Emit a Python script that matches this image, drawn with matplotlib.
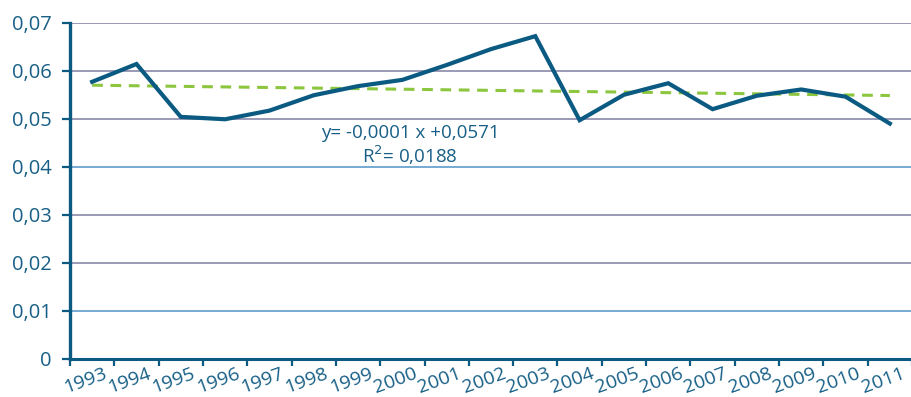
import matplotlib
matplotlib.use("Agg")
import matplotlib.pyplot as plt
import matplotlib.transforms as mtransforms
from matplotlib.ticker import FixedLocator, FuncFormatter
import numpy as np

plt.rcParams["font.family"] = ["Open Sans", "DejaVu Sans"]

years = [str(y) for y in range(1993, 2012)]
values = [0.0577, 0.0614, 0.0504, 0.0499, 0.0517, 0.0549, 0.0568, 0.0581, 0.0612,
          0.0645, 0.0672, 0.0497, 0.0550, 0.0574, 0.0520, 0.0548, 0.0561, 0.0546,
          0.0490]
y_ticks = [0, 0.01, 0.02, 0.03, 0.04, 0.05, 0.06, 0.07]
equation = "y= -0,0001 x +0,0571"
r_squared = "R$^2$= 0,0188"

DARK = "#0b5a82"
TEXT = "#175f86"
GREEN = "#8cc63f"
GRID_A = "#8988aa"
GRID_B = "#5d9ccb"

fig = plt.figure(figsize=(9.12, 3.97), dpi=100)
ax = fig.add_axes([70 / 912, 1 - 359 / 397, 1 - 70 / 912, (359 - 22.7) / 397])

x = np.arange(len(years))
# linear trend through the series (x counted from 1 as in the spreadsheet)
slope, intercept = np.polyfit(x + 1, values, 1)
ax.plot(x, intercept + slope * (x + 1), color=GREEN, lw=2.2, ls=(0, (3.5, 2.5)), zorder=3)
ax.plot(x, values, color=DARK, lw=3.0, solid_joinstyle="miter", zorder=4)

ax.set_xlim(-0.5, len(years) - 0.5)
ax.set_ylim(0, 0.07)

# gridlines, alternating colours as in the source
for t in y_ticks[1:]:
    c = GRID_B if t in (0.01, 0.04) else GRID_A
    ax.axhline(t, color=c, lw=1.2, zorder=1)

ax.yaxis.set_major_locator(FixedLocator(y_ticks))
ax.yaxis.set_major_formatter(FuncFormatter(
    lambda v, p: "0" if v == 0 else f"{v:.2f}".replace(".", ",")))
ax.xaxis.set_major_locator(FixedLocator(np.arange(-0.5, len(years), 1.0)))
ax.xaxis.set_major_formatter(FuncFormatter(lambda v, p: ""))
ax.xaxis.set_minor_locator(FixedLocator(x))
ax.set_xticklabels(years, minor=True)

ax.tick_params(axis="y", direction="out", length=6, width=1.6, color=DARK,
               labelsize=14.5, labelcolor=TEXT, pad=7)
ax.tick_params(axis="x", which="major", direction="out", length=5, width=1.6, color=DARK)
ax.tick_params(axis="x", which="minor", length=0, labelsize=14, labelcolor=TEXT, pad=4)

offset = mtransforms.ScaledTranslation(-7 / 100, 0, fig.dpi_scale_trans)
for lab in ax.get_xticklabels(minor=True):
    lab.set_rotation(20)
    lab.set_ha("center")
    lab.set_transform(lab.get_transform() + offset)

for s in ("top", "right"):
    ax.spines[s].set_visible(False)
ax.spines["left"].set_color(DARK)
ax.spines["left"].set_linewidth(2.4)
ax.spines["bottom"].set_color(DARK)
ax.spines["bottom"].set_linewidth(2.2)
ax.spines["bottom"].set_zorder(5)

ax.text(7.18, 0.0471, equation, ha="center", va="center", color=TEXT, fontsize=13.5)
ax.text(7.18, 0.0425, r_squared, ha="center", va="center", color=TEXT, fontsize=13.5)

fig.savefig("out.png", dpi=100)
